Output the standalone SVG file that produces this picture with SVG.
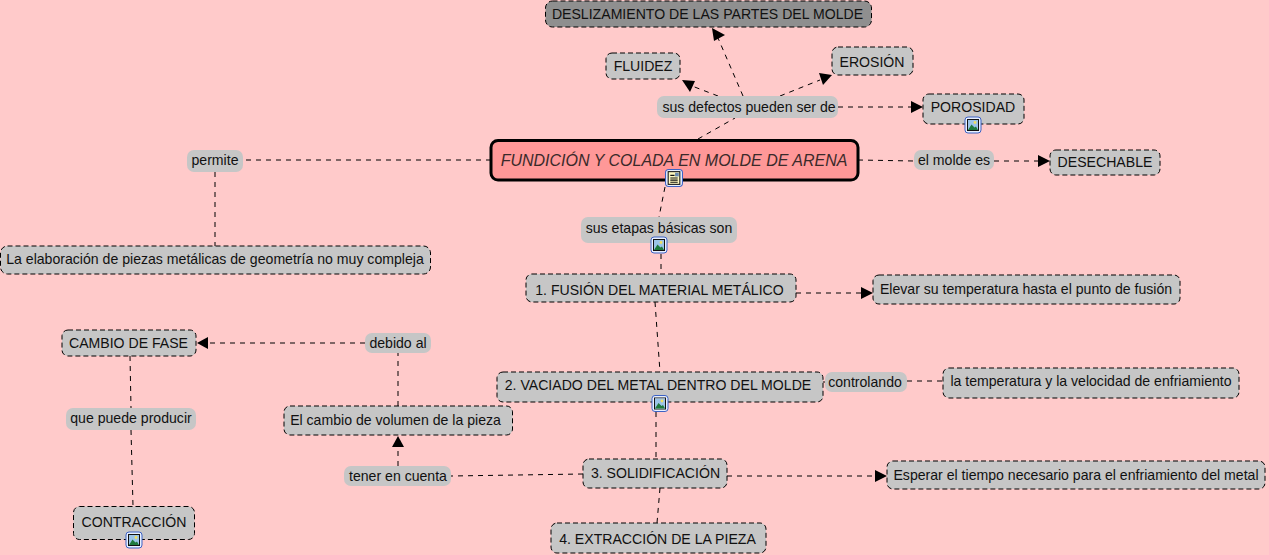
<svg xmlns="http://www.w3.org/2000/svg" width="1269" height="555" viewBox="0 0 1269 555">
<style>
text{font-family:"Liberation Sans",Arial,sans-serif;font-size:14.1px;fill:#111;text-anchor:middle}
.n{fill:#c6c6c6;stroke:#000;stroke-width:1;stroke-dasharray:5 3}
.l{fill:#c6c6c6}
.c{fill:none;stroke:#000;stroke-width:1;stroke-dasharray:5 5}
.a{fill:#000}
</style>
<defs>
<symbol id="img" viewBox="0 0 17 17" overflow="visible">
<rect x=".5" y=".5" width="16" height="16" rx="3" fill="#e8f0ff" stroke="#3d62c4"/>
<rect x="3" y="3" width="11" height="11" fill="#fff" stroke="#111"/>
<rect x="3.500" y="3.500" width="10" height="10" fill="#9cc4e8"/>
<circle cx="10.500" cy="6" r="1.400" fill="#f0e060"/>
<path d="M3.500 13.500L7 8l3 3 1.500-1 2 3.500z" fill="#1f7a3d"/>
</symbol>
<symbol id="doc" viewBox="0 0 17 17" overflow="visible">
<rect x=".5" y=".5" width="16" height="16" rx="3" fill="#e8f0ff" stroke="#3d62c4"/>
<rect x="3" y="2.500" width="11" height="12" fill="#fff8c0" stroke="#111"/>
<path d="M5 6h4M5 8.500h7M5 10.500h7M5 12.500h7" stroke="#111" fill="none"/>
<rect x="9.500" y="3.500" width="3.500" height="3.500" fill="#6a8ab0"/>
</symbol>
</defs>
<rect width="1269" height="555" fill="#ffcaca"/>
<g id="connectors">
<path class="c" d="M698 139L735 118"/>
<path class="c" d="M743 96L718 38"/>
<path class="c" d="M718 96L692 86"/>
<path class="c" d="M780 96L820 80"/>
<path class="c" d="M838 107H911"/>
<path class="c" d="M491 160H243"/>
<path class="c" d="M215 172V246"/>
<path class="c" d="M858 160L914 161"/>
<path class="c" d="M994 161H1038"/>
<path class="c" d="M665 187L659 217"/>
<path class="c" d="M661 254V274"/>
<path class="c" d="M796 293H861"/>
<path class="c" d="M655 302L660 372"/>
<path class="c" d="M823 382H825"/>
<path class="c" d="M907 381H943"/>
<path class="c" d="M656 412V459"/>
<path class="c" d="M583 474L451 476"/>
<path class="c" d="M398 466V447"/>
<path class="c" d="M398 406V353"/>
<path class="c" d="M365 343H208"/>
<path class="c" d="M130 356L131 408"/>
<path class="c" d="M131 430L133 506"/>
<path class="c" d="M727 476H875"/>
<path class="c" d="M660 488L657 523"/>
<path class="a" d="M712 28L725 35L714 41Z"/>
<path class="a" d="M682 80L695 81L690 92Z"/>
<path class="a" d="M832 75L819 73L823 85Z"/>
<path class="a" d="M923 107L911 101V113Z"/>
<path class="a" d="M1050 161L1038 155V167Z"/>
<path class="a" d="M873 293L861 287V299Z"/>
<path class="a" d="M197 343L208 337V349Z"/>
<path class="a" d="M398 436L392 447H404Z"/>
<path class="a" d="M887 476L875 470V482Z"/>
</g>
<g id="n1"><rect class="n" x="545.500" y="1" width="326" height="26" rx="7" style="fill:#8f8f8f"/><text x="707.500" y="19">DESLIZAMIENTO DE LAS PARTES DEL MOLDE</text></g>
<g id="n2"><rect class="n" x="606" y="53" width="74" height="26" rx="6"/><text x="643" y="71">FLUIDEZ</text></g>
<g id="n3"><rect class="n" x="832" y="47" width="81" height="28" rx="6"/><text x="872" y="67">EROSIÓN</text></g>
<g id="n4"><rect class="l" x="657" y="96" width="181" height="22" rx="7"/><text x="749" y="112">sus defectos pueden ser de</text></g>
<g id="n5"><rect class="n" x="923" y="94" width="101" height="30" rx="6"/><text x="973" y="112">POROSIDAD</text><use href="#img" x="964.500" y="116.500" width="17" height="17"/></g>
<g id="main"><rect x="491" y="140.500" width="367" height="39.500" rx="7" fill="#ff9898" stroke="#000" stroke-width="3"/><text x="674" y="165.500" style="font-size:16px;font-style:italic;fill:#3a2a2a">FUNDICIÓN Y COLADA EN MOLDE DE ARENA</text><use href="#doc" x="665" y="169" width="18" height="18"/></g>
<g id="n6"><rect class="l" x="187" y="150" width="56" height="22" rx="7"/><text x="215" y="165">permite</text></g>
<g id="n7"><rect class="l" x="914" y="150" width="80" height="20" rx="7"/><text x="954" y="165">el molde es</text></g>
<g id="n8"><rect class="n" x="1050" y="150" width="110" height="25" rx="6"/><text x="1105" y="167">DESECHABLE</text></g>
<g id="n9"><rect class="l" x="581" y="217" width="156" height="26" rx="7"/><text x="659" y="233">sus etapas básicas son</text><use href="#img" x="650.500" y="236.500" width="17" height="17"/></g>
<g id="n10"><rect class="n" x=".5" y="246" width="430" height="28" rx="7"/><text x="215" y="264">La elaboración de piezas metálicas de geometría no muy compleja</text></g>
<g id="n11"><rect class="n" x="526" y="274" width="270" height="28" rx="6"/><text x="659.500" y="295">1. FUSIÓN DEL MATERIAL METÁLICO</text></g>
<g id="n12"><rect class="n" x="873" y="275" width="307" height="29" rx="6"/><text x="1026" y="294">Elevar su temperatura hasta el punto de fusión</text></g>
<g id="n13"><rect class="n" x="62" y="330" width="134" height="26" rx="6"/><text x="128.500" y="348">CAMBIO DE FASE</text></g>
<g id="n14"><rect class="l" x="365" y="333" width="66" height="20" rx="7"/><text x="398" y="348">debido al</text></g>
<g id="n15"><rect class="n" x="497" y="372" width="326" height="30" rx="6"/><text x="658" y="390">2. VACIADO DEL METAL DENTRO DEL MOLDE</text><use href="#img" x="651.500" y="395" width="17" height="17"/></g>
<g id="n16"><rect class="l" x="825" y="372" width="82" height="20" rx="7"/><text x="865" y="387">controlando</text></g>
<g id="n17"><rect class="n" x="943" y="368" width="296" height="30" rx="6"/><text x="1091" y="386">la temperatura y la velocidad de enfriamiento</text></g>
<g id="n18"><rect class="n" x="284" y="406" width="228.500" height="29" rx="6"/><text x="395.500" y="425">El cambio de volumen de la pieza</text></g>
<g id="n19"><rect class="l" x="66" y="408" width="130" height="22" rx="7"/><text x="131" y="423">que puede producir</text></g>
<g id="n20"><rect class="l" x="344" y="466" width="107" height="20" rx="7"/><text x="398" y="481">tener en cuenta</text></g>
<g id="n21"><rect class="n" x="583" y="459" width="144" height="29" rx="6"/><text x="655.500" y="478">3. SOLIDIFICACIÓN</text></g>
<g id="n22"><rect class="n" x="887" y="461" width="378" height="28" rx="6"/><text x="1076" y="480">Esperar el tiempo necesario para el enfriamiento del metal</text></g>
<g id="n23"><rect class="n" x="73.500" y="506.500" width="121" height="33" rx="6"/><text x="134" y="527">CONTRACCIÓN</text><use href="#img" x="125.500" y="531.500" width="17" height="17"/></g>
<g id="n24"><rect class="n" x="551" y="523" width="215" height="30" rx="6"/><text x="657.500" y="544">4. EXTRACCIÓN DE LA PIEZA</text></g>
</svg>
